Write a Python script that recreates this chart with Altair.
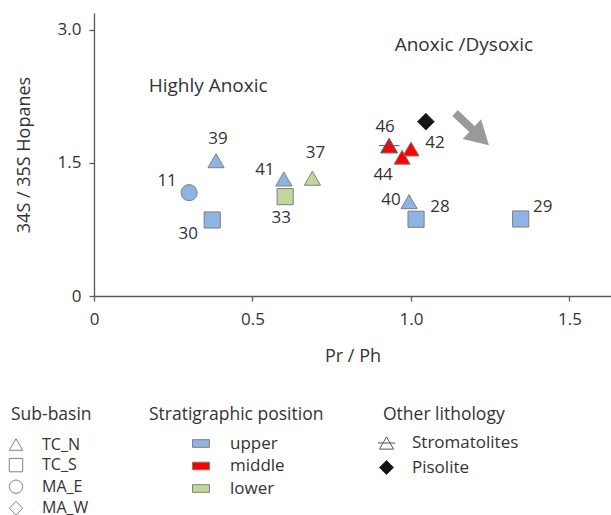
import altair as alt
import pandas as pd

# ---- samples: Pr/Ph ratio vs C34S/C35S homohopane ratio ----
sample_id = ["11", "30", "39", "41", "33", "37", "46", "42", "44", "40", "28", "29"]
pr_ph = [0.300, 0.373, 0.385, 0.599, 0.603, 0.689, 0.931, 1.000, 0.972, 0.994, 1.016, 1.346]
hopanes = [1.165, 0.857, 1.525, 1.319, 1.120, 1.327, 1.695, 1.657, 1.564, 1.063, 0.865, 0.868]
sub_basin = ["MA_E", "TC_S", "TC_N", "TC_N", "TC_S", "TC_N", "TC_N", "TC_N", "TC_N", "TC_N", "TC_S", "TC_S"]
position = ["upper", "upper", "upper", "upper", "lower", "lower", "middle", "middle", "middle", "upper", "upper", "upper"]

# ---- other lithologies ----
lith_name = ["Stromatolites", "Pisolite"]
lith_pr_ph = [0.931, 1.047]
lith_hopanes = [1.695, 1.965]

# ---- category styling ----
basin_names = ["TC_N", "TC_S", "MA_E", "MA_W"]
basin_shapes = ["triangle-up", "square", "circle", "diamond"]
position_names = ["upper", "middle", "lower"]
position_colors = ["#8db4e2", "#ff0000", "#c3d69b"]
STROMATOLITE = "M0,-0.866L1,0.866L-1,0.866Z M-1.2,0H1.25"
lith_shapes = [STROMATOLITE, "diamond"]
lith_fills = ["transparent", "#141414"]
lith_strokes = ["#555555", "#333333"]

# ---- redox zone annotations ----
zone_text = ["Highly Anoxic", "Anoxic /Dysoxic"]
zone_x = [0.36, 1.167]
zone_y = [2.37, 2.83]

# ---- trend arrow: shaft (tail -> base of head) and head centre ----
arrow_x = [1.139, 1.196]
arrow_y = [2.063, 1.870]
arrow_head_x = [1.219]
arrow_head_y = [1.790]

# ---- plot geometry ----
W, H = 517, 283
XMAX, YMAX = 1.631, 3.19
PX_X, PX_Y = W / XMAX, H / YMAX

# pixel shift of each sample label from its marker
label_shift = {
    "39": (2, -22), "11": (-22, -12), "30": (-24, 14), "41": (-19, -9),
    "37": (3, -25), "33": (-4, 21), "46": (-4, -19), "42": (24, -6),
    "44": (-19, 18), "40": (-18, -2), "28": (24, -12), "29": (22, -12),
}

FONT = "Open Sans"
TXT = "#333333"
AX = "#595959"

samples = pd.DataFrame({"id": sample_id, "x": pr_ph, "y": hopanes,
                        "basin": sub_basin, "position": position})
labels = samples.assign(
    x=[x + label_shift[i][0] / PX_X for i, x in zip(sample_id, pr_ph)],
    y=[y - label_shift[i][1] / PX_Y for i, y in zip(sample_id, hopanes)],
)
lith = pd.DataFrame({"x": lith_pr_ph, "y": lith_hopanes, "lith": lith_name})
zones = pd.DataFrame({"x": zone_x, "y": zone_y, "text": zone_text})
shaft = pd.DataFrame({"x": arrow_x, "y": arrow_y})
head = pd.DataFrame({"x": arrow_head_x, "y": arrow_head_y})

fmt = "datum.value == 0 ? '0' : format(datum.value, '.1f')"
x_enc = alt.X("x:Q", scale=alt.Scale(domain=[0, XMAX], nice=False, zero=False),
              axis=alt.Axis(values=[0, 0.5, 1.0, 1.5], labelExpr=fmt, title="Pr / Ph",
                            labelFlush=False, labelPadding=10, titlePadding=20))
y_enc = alt.Y("y:Q", scale=alt.Scale(domain=[0, YMAX], nice=False, zero=False),
              axis=alt.Axis(values=[0, 1.5, 3.0], labelExpr=fmt, title="34S / 35S Hopanes",
                            labelFlush=False, labelPadding=8, titlePadding=24))

legend_common = dict(orient="none", direction="vertical", padding=0,
                     titleFont=FONT, titleFontSize=17.5, titleFontWeight="normal",
                     titleColor=TXT, labelFont=FONT, labelColor=TXT, legendY=393)

arrow_shaft = alt.Chart(shaft).mark_line(color="#9a9a9a", strokeWidth=8, strokeCap="butt").encode(
    x=x_enc, y=y_enc)
arrow_tip = alt.Chart(head).mark_point(shape="triangle-right", filled=True, size=729, angle=43,
                                       color="#9a9a9a", opacity=1).encode(x=x_enc, y=y_enc)

points = alt.Chart(samples).mark_point(
    filled=True, opacity=1, stroke="#7f7f7f", strokeWidth=1, size=260
).encode(
    x=x_enc, y=y_enc,
    shape=alt.Shape("basin:N", scale=alt.Scale(domain=basin_names, range=basin_shapes),
                    legend=alt.Legend(title="Sub-basin", legendX=-83, symbolSize=180,
                                      symbolFillColor="white", symbolStrokeColor="#808080",
                                      symbolStrokeWidth=1, symbolOffset=-3, labelOffset=18,
                                      labelFontSize=16, titlePadding=13, rowPadding=3.6,
                                      **legend_common)),
    fill=alt.Fill("position:N", scale=alt.Scale(domain=position_names, range=position_colors),
                  legend=alt.Legend(title="Stratigraphic position", legendX=55,
                                    symbolType="M-1,-0.45H1V0.45H-1Z", symbolSize=289,
                                    symbolStrokeColor="#808080", symbolStrokeWidth=1,
                                    symbolOffset=43, labelOffset=20, labelFontSize=17,
                                    titlePadding=11, rowPadding=5.5, **legend_common)),
)

lith_legend = alt.Legend(title="Other lithology", legendX=289, symbolSize=200,
                         symbolStrokeWidth=1, symbolOffset=-5, labelOffset=17,
                         labelFontSize=17, titlePadding=11, rowPadding=6.5, **legend_common)
other = alt.Chart(lith).mark_point(
    filled=True, opacity=1, strokeWidth=1, size=280
).encode(
    x=x_enc, y=y_enc,
    shape=alt.Shape("lith:N", scale=alt.Scale(domain=lith_name, range=lith_shapes), legend=lith_legend),
    fill=alt.Fill("lith:N", scale=alt.Scale(domain=lith_name, range=lith_fills), legend=lith_legend),
    stroke=alt.Stroke("lith:N", scale=alt.Scale(domain=lith_name, range=lith_strokes), legend=lith_legend),
)

sample_labels = alt.Chart(labels).mark_text(font=FONT, fontSize=17, color=TXT,
                                            align="center", baseline="middle").encode(
    x=x_enc, y=y_enc, text="id:N")

zone_labels = alt.Chart(zones).mark_text(font=FONT, fontSize=19, color=TXT,
                                         align="center", baseline="middle").encode(
    x=x_enc, y=y_enc, text="text:N")

chart = (
    alt.layer(arrow_shaft, arrow_tip, points, other, sample_labels, zone_labels)
    .resolve_scale(shape="independent", fill="independent", stroke="independent")
    .properties(width=W, height=H, autosize=alt.AutoSizeParams(type="none"),
                padding={"left": 94, "top": 13, "right": 0, "bottom": 219})
    .configure_view(stroke=None)
    .configure_axis(grid=False, domainColor=AX, tickColor=AX, domainWidth=1.3, tickWidth=1.3,
                    tickSize=5, labelFont=FONT, labelFontSize=17, labelColor=TXT,
                    titleFont=FONT, titleFontSize=18, titleFontWeight="normal", titleColor=TXT)
)

chart.save("out.html", embed_options={"renderer": "svg", "actions": False})
